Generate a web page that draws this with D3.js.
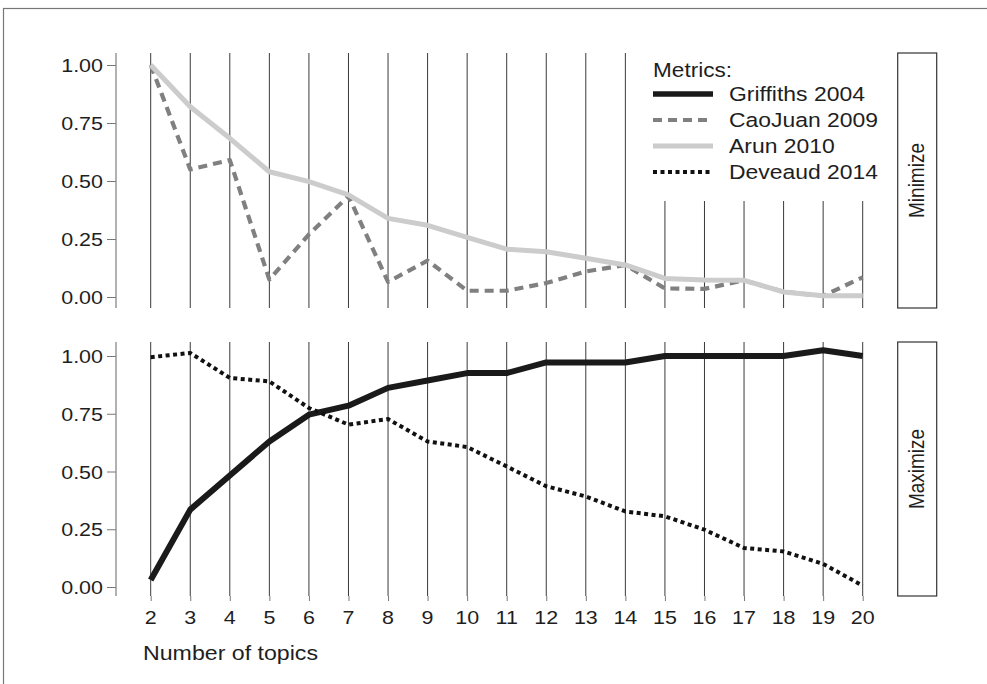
<!DOCTYPE html>
<html><head><meta charset="utf-8">
<script src="https://cdn.jsdelivr.net/npm/d3@7"></script>
<style>body{margin:0;background:#fff}svg{display:block;font-family:"Liberation Sans",Arial,sans-serif}</style>
</head><body>
<svg id="c" width="987" height="684"></svg>
<script>
const topics = [2,3,4,5,6,7,8,9,10,11,12,13,14,15,16,17,18,19,20];
const griffiths = [0.03,0.335,0.483,0.63,0.746,0.785,0.862,0.894,0.926,0.926,0.972,0.972,0.972,1.0,1.0,1.0,1.0,1.025,1.0];
const caojuan = [1.0,0.55,0.59,0.075,0.27,0.435,0.065,0.157,0.027,0.027,0.06,0.11,0.138,0.037,0.035,0.072,0.022,0.005,0.085];
const arun = [1.0,0.82,0.684,0.54,0.497,0.44,0.339,0.309,0.257,0.206,0.195,0.167,0.138,0.08,0.073,0.072,0.022,0.005,0.005];
const deveaud = [0.995,1.013,0.905,0.89,0.775,0.703,0.727,0.63,0.606,0.522,0.436,0.392,0.327,0.306,0.248,0.169,0.154,0.1,0.006];
const yTicks = [0,0.25,0.5,0.75,1.0];
const seriesNames = ["Griffiths 2004","CaoJuan 2009","Arun 2010","Deveaud 2014"];
const panelNames = ["Minimize","Maximize"];

const SX = 1.13; // horizontal stretch of text seen in the reference
const svg = d3.select("#c");
svg.append("rect").attr("x",3.5).attr("y",8.5).attr("width",1000).attr("height",700)
  .attr("fill","none").attr("stroke","#777").attr("stroke-width",1.2);

function txt(parent, x, y, s, size, anchor, rot){
  return parent.append("text")
    .attr("transform",`translate(${x},${y})${rot?` rotate(${rot})`:""} scale(${rot?1:SX},${rot?SX:1})`)
    .attr("text-anchor",anchor||"start").attr("font-size",size).attr("fill","#1e1e1e").text(s);
}

const px0 = 116, px1 = 897;
const x = d3.scaleLinear().domain([2,20]).range([150.7,862.7]);
const panels = [
  {name:panelNames[0], top:53, bottom:308, y:d3.scaleLinear().domain([0,1]).range([297,65]),
   series:[{v:caojuan,color:"#808080",w:4.2,dash:"9 6"},
           {v:arun,color:"#cccccc",w:5,dash:null}]},
  {name:panelNames[1], top:342, bottom:596, y:d3.scaleLinear().domain([0,1]).range([587,356]),
   series:[{v:griffiths,color:"#1a1a1a",w:6,dash:null},
           {v:deveaud,color:"#111",w:4,dash:"4 3.5"}]}
];
const legendStyles = [
  {color:"#1a1a1a",w:5.5,dash:null},
  {color:"#808080",w:4.2,dash:"9 6"},
  {color:"#cccccc",w:5,dash:null},
  {color:"#111",w:4,dash:"4 3.5"}
];

panels.forEach((p,pi)=>{
  const g = svg.append("g");
  g.selectAll("line.v").data(topics).enter().append("line")
    .attr("x1",d=>x(d)).attr("x2",d=>x(d)).attr("y1",p.top).attr("y2",p.bottom)
    .attr("stroke","#3a3a3a").attr("stroke-width",1);
  const ax = d3.axisLeft(p.y).tickValues(yTicks).tickFormat("").tickSize(9);
  const ag = g.append("g").attr("transform",`translate(${px0},0)`).call(ax);
  ag.select(".domain").remove();
  ag.selectAll(".tick line").attr("stroke","#777");
  yTicks.forEach(t=>txt(g, 103, p.y(t)+7, d3.format(".2f")(t), 19, "end"));
  g.append("line").attr("x1",px0).attr("x2",px0).attr("y1",p.top).attr("y2",p.bottom)
    .attr("stroke","#888").attr("stroke-width",1.3);
  if(pi===0){
    g.append("rect").attr("x",640).attr("y",p.top).attr("width",px1-640).attr("height",148).attr("fill","#fff");
  }
  const line = d3.line().x((d,i)=>x(topics[i])).y(d=>p.y(d));
  p.series.forEach(s=>{
    g.append("path").datum(s.v).attr("d",line).attr("fill","none")
      .attr("stroke",s.color).attr("stroke-width",s.w)
      .attr("stroke-dasharray",s.dash).attr("stroke-linejoin","round");
  });
  g.append("rect").attr("x",897.7).attr("y",p.top).attr("width",39).attr("height",p.bottom-p.top)
    .attr("fill","#fff").attr("stroke","#333").attr("stroke-width",1.2);
  txt(g, 924, (p.top+p.bottom)/2, p.name, 19, "middle", -90);
});

const xa = d3.axisBottom(x).tickValues(topics).tickFormat("").tickSize(5);
const xg = svg.append("g").attr("transform","translate(0,596)").call(xa);
xg.select(".domain").remove();
xg.selectAll(".tick line").attr("stroke","#777");
topics.forEach(t=>txt(svg, x(t), 624, String(t), 19, "middle"));
txt(svg, 143, 660, "Number of topics", 20.5, "start");

const lg = svg.append("g");
txt(lg, 653, 77, "Metrics:", 20, "start");
seriesNames.forEach((n,i)=>{
  const yy = 94 + i*26;
  const st = legendStyles[i];
  lg.append("line").attr("x1",653).attr("x2",713).attr("y1",yy).attr("y2",yy)
    .attr("stroke",st.color).attr("stroke-width",st.w).attr("stroke-dasharray",st.dash);
  txt(lg, 729, yy+7, n, 20.3, "start");
});
</script>
</body></html>
